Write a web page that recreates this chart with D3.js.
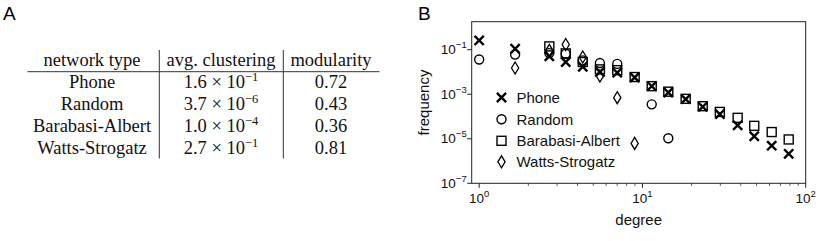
<!DOCTYPE html>
<html>
<head>
<meta charset="utf-8">
<script src="https://cdn.jsdelivr.net/npm/d3@7"></script>
<style>
  body { margin: 0; background: #fff; }
  svg { display: block; }
</style>
</head>
<body>
<svg id="fig" width="830" height="241"></svg>
<script>
// table (panel A)
const tableHeader = ["network type", "avg. clustering", "modularity"];
const networkTypes = ["Phone", "Random", "Barabasi-Albert", "Watts-Strogatz"];
const clusterMantissa = ["1.6", "3.7", "1.0", "2.7"];
const clusterExponent = ["\u22121", "\u22126", "\u22124", "\u22121"];
const modularity = ["0.72", "0.43", "0.36", "0.81"];

// degree distribution (panel B)
const degree = [1, 1.66, 2.69, 3.39, 4.31, 5.49, 7.01, 8.96, 11.4, 14.4, 18.4, 23.4, 29.8, 38.3, 48.4, 61.9, 78.7];
const phoneFreq = [0.26, 0.11, 0.05, 0.028, 0.017, 0.010, 0.0093, 0.0056, 0.0023, 0.0012, 6.0e-4, 2.7e-4, 1.27e-4, 4.0e-5, 1.3e-5, 4.9e-6, 2.1e-6];
const randomFreq = [0.036, 0.06, 0.07, 0.065, 0.033, 0.025, 0.023, null, 3.5e-4, 1.05e-5, null, null, null, null, null, null, null];
const baFreq = [null, null, 0.14, 0.068, 0.028, 0.013, 0.012, 0.0059, 0.0023, 0.0013, 6.2e-4, 2.9e-4, 1.6e-4, 8.7e-5, 3.8e-5, 2.0e-5, 9.3e-6];
const wsFreq = [null, 0.015, 0.093, 0.17, 0.047, 0.0065, 7.0e-4, 6.2e-6, null, null, null, null, null, null, null, null, null];
const seriesNames = ["Phone", "Random", "Barabasi-Albert", "Watts-Strogatz"];
const seriesMarkers = ["x", "circle", "square", "diamond"];
const xTicks = [1, 10, 100];
const xTickExp = ["0", "1", "2"];
const yTicks = [1e-1, 1e-3, 1e-5, 1e-7];
const yTickExp = ["\u22121", "\u22123", "\u22125", "\u22127"];

const svg = d3.select("#fig");
const sans = "'Liberation Sans', Arial, Helvetica, sans-serif";
const serif = "'Liberation Serif', 'Times New Roman', serif";

// panel letters
svg.append("text").attr("x", 3).attr("y", 20).attr("font-family", sans)
  .attr("font-size", 19).text("A");
svg.append("text").attr("x", 418).attr("y", 20).attr("font-family", sans)
  .attr("font-size", 19).text("B");

// ---------- Panel A: table ----------
const colX = [92, 221, 331];
const headerY = 65.5;
const rowY = [87.7, 110, 132, 153.5];
const tfs = 18.5;
const tbl = svg.append("g").attr("font-family", serif).attr("fill", "#111");

tbl.selectAll("text.hdr").data(tableHeader).join("text")
  .attr("class", "hdr")
  .attr("x", (d, i) => colX[i]).attr("y", headerY)
  .attr("text-anchor", "middle").attr("font-size", tfs).text(d => d);

tbl.append("line").attr("x1", 27.5).attr("x2", 379.5).attr("y1", 71.7).attr("y2", 71.7)
  .attr("stroke", "#333").attr("stroke-width", 1);
[159.3, 283.3].forEach(x => {
  tbl.append("line").attr("x1", x).attr("x2", x).attr("y1", 50).attr("y2", 158.5)
    .attr("stroke", "#333").attr("stroke-width", 1);
});

networkTypes.forEach((name, i) => {
  tbl.append("text").attr("x", colX[0]).attr("y", rowY[i])
    .attr("text-anchor", "middle").attr("font-size", tfs).text(name);
  const t = tbl.append("text").attr("x", colX[1]).attr("y", rowY[i])
    .attr("text-anchor", "middle").attr("font-size", tfs);
  t.append("tspan").text(clusterMantissa[i] + " \u00d7 10");
  t.append("tspan").attr("dy", -7).attr("font-size", 12.5).text(clusterExponent[i]);
  tbl.append("text").attr("x", colX[2]).attr("y", rowY[i])
    .attr("text-anchor", "middle").attr("font-size", tfs).text(modularity[i]);
});

// ---------- Panel B: degree distribution ----------
const x = d3.scaleLog().domain([0.9, 100]).range([471.7, 805.7]);
const y = d3.scaleLog().domain([1e-7, 1.8]).range([183.3, 21.7]);

const plot = svg.append("g");

// frame
plot.append("rect")
  .attr("x", x.range()[0]).attr("y", y.range()[1])
  .attr("width", x.range()[1] - x.range()[0])
  .attr("height", y.range()[0] - y.range()[1])
  .attr("fill", "none").attr("stroke", "#222").attr("stroke-width", 1);

// x axis: major + minor ticks
const xMinor = [];
[1, 10].forEach(b => { for (let k = 2; k <= 9; k++) xMinor.push(b * k); });
const xAxisG = plot.append("g").attr("transform", `translate(0,${y.range()[0]})`);
xAxisG.selectAll("line.minor").data(xMinor).join("line")
  .attr("x1", d => x(d)).attr("x2", d => x(d)).attr("y1", 0).attr("y2", 2.5)
  .attr("stroke", "#222").attr("stroke-width", 0.8);
xAxisG.selectAll("line.major").data(xTicks).join("line")
  .attr("x1", d => x(d)).attr("x2", d => x(d)).attr("y1", 0).attr("y2", 4.5)
  .attr("stroke", "#222").attr("stroke-width", 1);
xTicks.forEach((v, i) => {
  const t = xAxisG.append("text").attr("x", x(v)).attr("y", 20)
    .attr("text-anchor", "middle").attr("font-family", sans).attr("font-size", 13.5)
    .attr("fill", "#111");
  t.append("tspan").text("10");
  t.append("tspan").attr("dy", -6).attr("font-size", 9.5).text(xTickExp[i]);
});

// y axis
const yAxisG = plot.append("g").attr("transform", `translate(${x.range()[0]},0)`);
yAxisG.selectAll("line.major").data(yTicks).join("line")
  .attr("x1", -4.5).attr("x2", 0).attr("y1", d => y(d)).attr("y2", d => y(d))
  .attr("stroke", "#222").attr("stroke-width", 1);
yTicks.forEach((v, i) => {
  const t = yAxisG.append("text").attr("x", -5).attr("y", y(v) + 4.5)
    .attr("text-anchor", "end").attr("font-family", sans).attr("font-size", 13.5)
    .attr("fill", "#111");
  t.append("tspan").text("10");
  t.append("tspan").attr("dy", -6).attr("font-size", 9.5).text(yTickExp[i]);
});

// axis labels
plot.append("text").attr("x", (x.range()[0] + x.range()[1]) / 2).attr("y", 225)
  .attr("text-anchor", "middle").attr("font-family", sans).attr("font-size", 15)
  .attr("fill", "#111").text("degree");
plot.append("text")
  .attr("transform", `translate(429,${(y.range()[0] + y.range()[1]) / 2}) rotate(-90)`)
  .attr("text-anchor", "middle").attr("font-family", sans).attr("font-size", 15)
  .attr("fill", "#111").text("frequency");

// marker drawing
function drawMarker(g, type, cx, cy) {
  if (type === "x") {
    const s = 4.6;
    g.append("path")
      .attr("d", `M${cx - s},${cy - s}L${cx + s},${cy + s}M${cx - s},${cy + s}L${cx + s},${cy - s}`)
      .attr("stroke", "#000").attr("stroke-width", 2.4).attr("fill", "none");
  } else if (type === "circle") {
    g.append("circle").attr("cx", cx).attr("cy", cy).attr("r", 4.5)
      .attr("fill", "none").attr("stroke", "#000").attr("stroke-width", 1.4);
  } else if (type === "square") {
    g.append("rect").attr("x", cx - 4.5).attr("y", cy - 4.5).attr("width", 9).attr("height", 9)
      .attr("fill", "none").attr("stroke", "#000").attr("stroke-width", 1.4);
  } else {
    g.append("path")
      .attr("d", `M${cx},${cy - 6}L${cx + 3.6},${cy}L${cx},${cy + 6}L${cx - 3.6},${cy}Z`)
      .attr("fill", "none").attr("stroke", "#000").attr("stroke-width", 1.3);
  }
}

const allSeries = [phoneFreq, randomFreq, baFreq, wsFreq];
const pts = plot.append("g");
allSeries.forEach((vals, s) => {
  vals.forEach((v, i) => {
    if (v == null) return;
    drawMarker(pts, seriesMarkers[s], x(degree[i]), y(v));
  });
});

// legend
const legY = [97.5, 119.2, 140.8, 161.8];
const leg = plot.append("g");
seriesNames.forEach((name, i) => {
  drawMarker(leg, seriesMarkers[i], 501.5, legY[i]);
  leg.append("text").attr("x", 516.5).attr("y", legY[i] + 5.3)
    .attr("font-family", sans).attr("font-size", 15).attr("fill", "#111").text(name);
});
</script>
</body>
</html>
